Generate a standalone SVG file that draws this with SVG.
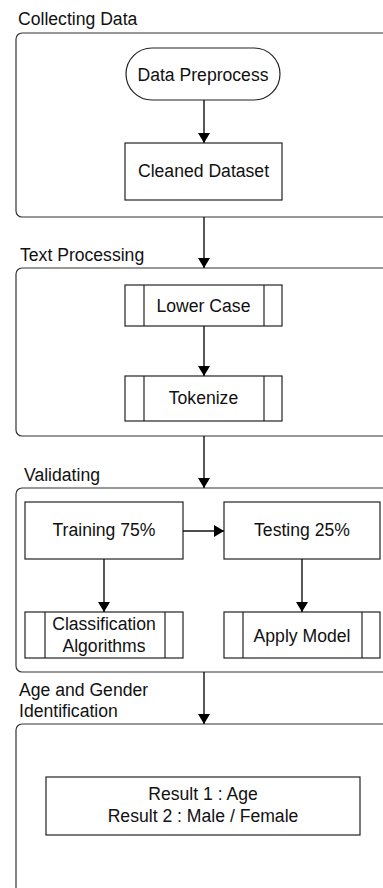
<svg xmlns="http://www.w3.org/2000/svg" width="383" height="888" viewBox="0 0 383 888">
<style>
text{font-family:"Liberation Sans",Arial,sans-serif;font-size:17.6px;fill:#111}
.c{text-anchor:middle}
.box{fill:#fff;stroke:#222;stroke-width:1.2}
.grp{fill:#fff;stroke:#333;stroke-width:1.2}
.ln{stroke:#111;stroke-width:1.4;fill:none}
</style>
<defs>
<marker id="ah" viewBox="0 0 10 12" refX="10" refY="6" markerWidth="10" markerHeight="12" markerUnits="userSpaceOnUse" orient="auto">
<path d="M0,0 L10,6 L0,12 Z" fill="#000"/>
</marker>
</defs>
<rect width="383" height="888" fill="#fff"/>
<g id="grp-collecting">
<rect class="grp" x="16" y="33" width="400" height="184" rx="6"/>
<text x="18" y="25">Collecting Data</text>
</g>
<g id="grp-text">
<rect class="grp" x="16" y="268" width="400" height="168" rx="6"/>
<text x="20" y="261">Text Processing</text>
</g>
<g id="grp-valid">
<rect class="grp" x="16" y="488" width="400" height="184" rx="6"/>
<text x="24" y="481">Validating</text>
</g>
<g id="grp-age">
<rect class="grp" x="16" y="724" width="400" height="200" rx="6"/>
<text x="19" y="696">Age and Gender</text>
<text x="19" y="717">Identification</text>
</g>
<g id="n-preprocess">
<rect class="box" x="126" y="48" width="154" height="52" rx="26"/>
<text class="c" x="203" y="81">Data Preprocess</text>
</g>
<g id="n-cleaned">
<rect class="box" x="125" y="143" width="157" height="57"/>
<text class="c" x="203.5" y="177">Cleaned Dataset</text>
</g>
<g id="n-lower">
<rect class="box" x="125" y="285" width="157" height="41"/>
<line class="box" x1="144" y1="285" x2="144" y2="326"/>
<line class="box" x1="264" y1="285" x2="264" y2="326"/>
<text class="c" x="203.5" y="312">Lower Case</text>
</g>
<g id="n-token">
<rect class="box" x="125" y="376" width="157" height="45"/>
<line class="box" x1="144" y1="376" x2="144" y2="421"/>
<line class="box" x1="264" y1="376" x2="264" y2="421"/>
<text class="c" x="203.5" y="404">Tokenize</text>
</g>
<g id="n-train">
<rect class="box" x="25" y="502" width="158" height="57"/>
<text class="c" x="104" y="536">Training 75%</text>
</g>
<g id="n-test">
<rect class="box" x="224" y="502" width="156" height="57"/>
<text class="c" x="302" y="536">Testing 25%</text>
</g>
<g id="n-class">
<rect class="box" x="25" y="612" width="158" height="46"/>
<line class="box" x1="45" y1="612" x2="45" y2="658"/>
<line class="box" x1="165" y1="612" x2="165" y2="658"/>
<text class="c" x="104" y="630">Classification</text>
<text class="c" x="104" y="652">Algorithms</text>
</g>
<g id="n-apply">
<rect class="box" x="224" y="612" width="156" height="46"/>
<line class="box" x1="243" y1="612" x2="243" y2="658"/>
<line class="box" x1="362" y1="612" x2="362" y2="658"/>
<text class="c" x="302" y="642">Apply Model</text>
</g>
<g id="n-result">
<rect class="box" x="46" y="777" width="314" height="58"/>
<text class="c" x="203" y="800">Result 1 : Age</text>
<text class="c" x="203" y="822">Result 2 : Male / Female</text>
</g>
<g id="connectors">
<line class="ln" x1="204" y1="100" x2="204" y2="143" marker-end="url(#ah)"/>
<line class="ln" x1="204" y1="217" x2="204" y2="268" marker-end="url(#ah)"/>
<line class="ln" x1="204" y1="326" x2="204" y2="376" marker-end="url(#ah)"/>
<line class="ln" x1="204" y1="436" x2="204" y2="488" marker-end="url(#ah)"/>
<line class="ln" x1="183" y1="531" x2="224" y2="531" marker-end="url(#ah)"/>
<line class="ln" x1="104" y1="559" x2="104" y2="612" marker-end="url(#ah)"/>
<line class="ln" x1="302" y1="559" x2="302" y2="612" marker-end="url(#ah)"/>
<line class="ln" x1="204" y1="672" x2="204" y2="724" marker-end="url(#ah)"/>
</g>
</svg>
